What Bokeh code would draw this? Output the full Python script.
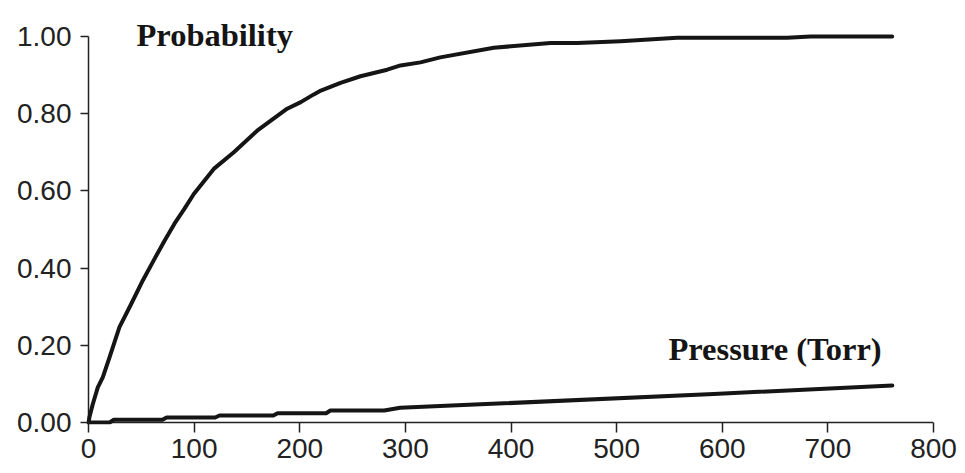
from bokeh.plotting import figure
from bokeh.models import Label, FixedTicker, NumeralTickFormatter, Range1d
from bokeh.embed import file_html
from bokeh.resources import INLINE

# Probability curve (x: pressure in Torr, y: probability)
prob_x = [0, 0.9, 4.1, 8.8, 13.5, 19.9, 29.3, 40.4, 51.4, 62.5, 72, 81.4, 90.9,
          99.7, 118.6, 137.6, 159.7, 188.1, 201, 213.3, 220, 238.6, 257.5, 282.8,
          295.4, 314.3, 333, 383.7, 437.4, 462.7, 503.7, 557.3, 661.5, 683.6, 760.9]
prob_y = [0, 0.014, 0.048, 0.091, 0.117, 0.169, 0.247, 0.307, 0.368, 0.424, 0.471,
          0.515, 0.554, 0.592, 0.657, 0.700, 0.756, 0.813, 0.830, 0.850, 0.860,
          0.880, 0.897, 0.914, 0.925, 0.933, 0.946, 0.971, 0.983, 0.983, 0.988,
          0.997, 0.997, 1.0, 1.0]

# Pressure curve (stepped at low values)
press_x = [0, 20, 24, 70, 74, 120, 124, 175, 179, 225, 229, 280, 295, 371, 592, 761]
press_y = [0, 0, 0.007, 0.007, 0.013, 0.013, 0.018, 0.018, 0.024, 0.024, 0.031,
           0.031, 0.038, 0.047, 0.074, 0.096]

x_ticks = [0, 100, 200, 300, 400, 500, 600, 700, 800]
y_ticks = [0.0, 0.2, 0.4, 0.6, 0.8, 1.0]

# pixel geometry of the frame (left edge 2px left of x=0, bottom 2px below y=0)
PX_PER_X = 1.05625
PX_PER_Y = 386.0
PAD = 2.0
W, H = 965, 473
LEFT, RIGHT, BOTTOM = 86, 32, 49
frame_h = H - BOTTOM

x0 = x_ticks[0] - PAD / PX_PER_X
y0 = y_ticks[0] - PAD / PX_PER_Y
y1 = y0 + frame_h / PX_PER_Y

p = figure(width=W, height=H, output_backend="svg", toolbar_location=None,
           x_range=Range1d(x0, x_ticks[-1]), y_range=Range1d(y0, y1),
           min_border_left=LEFT, min_border_right=RIGHT, min_border_top=0,
           min_border_bottom=BOTTOM)
p.outline_line_color = None
p.xgrid.visible = False
p.ygrid.visible = False
p.background_fill_color = "white"
p.border_fill_color = "white"

AX = "#222222"
# axis lines drawn as glyphs so they span exactly the tick range
p.line([x_ticks[0], x_ticks[0]], [y_ticks[0], y_ticks[-1]], line_width=1.5, line_color=AX)
p.line([x_ticks[0], x_ticks[-1]], [y_ticks[0], y_ticks[0]], line_width=1.5, line_color=AX)

p.line(prob_x, prob_y, line_width=4, line_color="#151515", line_join="round", line_cap="round")
p.line(press_x, press_y, line_width=4, line_color="#151515", line_join="round", line_cap="round")

for ax in (p.xaxis[0], p.yaxis[0]):
    ax.axis_line_color = None
    ax.major_tick_line_color = AX
    ax.major_tick_line_width = 1.5
    ax.minor_tick_line_color = None
    ax.major_tick_in = 2
    ax.major_label_text_font = "Liberation Sans"
    ax.major_label_text_font_size = "28px"
    ax.major_label_text_color = AX

p.xaxis[0].ticker = FixedTicker(ticks=x_ticks)
p.xaxis[0].major_tick_out = 8
p.xaxis[0].major_label_standoff = 6

p.yaxis[0].ticker = FixedTicker(ticks=y_ticks)
p.yaxis[0].formatter = NumeralTickFormatter(format="0.00")
p.yaxis[0].major_tick_out = 6
p.yaxis[0].major_label_standoff = 9

lab1 = Label(x=45.4, y=1.0026, text="Probability", text_font="Liberation Serif",
             text_font_style="bold", text_font_size="32.5px", text_color="#151515",
             text_baseline="alphabetic", text_align="left")
lab2 = Label(x=549, y=0.191, text="Pressure (Torr)", text_font="Liberation Serif",
             text_font_style="bold", text_font_size="32.5px", text_color="#151515",
             text_baseline="alphabetic", text_align="left")
p.add_layout(lab1)
p.add_layout(lab2)

open("out.html", "w").write(file_html(p, INLINE))
